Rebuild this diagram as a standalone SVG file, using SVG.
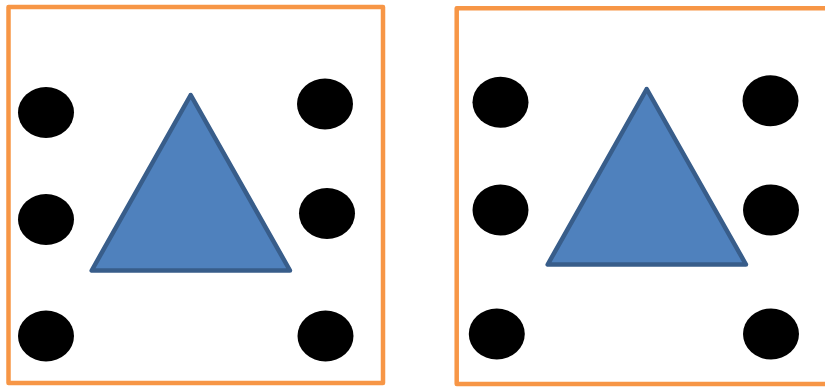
<svg xmlns="http://www.w3.org/2000/svg" width="825" height="387" viewBox="0 0 825 387">
<style>
.frame{fill:#fff;stroke:#F79646;stroke-width:4.5;stroke-linejoin:round}
.dot{fill:#000}
.tri{fill:#4F81BD;stroke:#385D8A;stroke-width:4.5;stroke-linejoin:round}
</style>
<rect width="825" height="387" fill="#fff"/>
<g id="panel-left">
<rect class="frame" x="8.5" y="7" width="374.5" height="376"/>
<polygon class="tri" points="190.7,95 91.7,270.5 290,270.5"/>
<ellipse class="dot" cx="46" cy="112.5" rx="28" ry="25.5"/>
<ellipse class="dot" cx="46" cy="219.5" rx="28" ry="25.5"/>
<ellipse class="dot" cx="46" cy="336" rx="28" ry="25.5"/>
<ellipse class="dot" cx="325" cy="104" rx="28" ry="25.5"/>
<ellipse class="dot" cx="327" cy="213.5" rx="28" ry="25.5"/>
<ellipse class="dot" cx="325.5" cy="336" rx="28" ry="25.5"/>
</g>
<g id="panel-right">
<rect class="frame" x="456.7" y="8.3" width="380" height="375.7"/>
<polygon class="tri" points="646.7,89 547.7,264.5 746,264.5"/>
<ellipse class="dot" cx="500.5" cy="102.3" rx="28" ry="25.5"/>
<ellipse class="dot" cx="500.5" cy="210" rx="28" ry="25.5"/>
<ellipse class="dot" cx="496.8" cy="334" rx="28" ry="25.5"/>
<ellipse class="dot" cx="770.5" cy="100.7" rx="28" ry="25.5"/>
<ellipse class="dot" cx="771" cy="210" rx="28" ry="25.5"/>
<ellipse class="dot" cx="771" cy="334" rx="28" ry="25.5"/>
</g>
</svg>
